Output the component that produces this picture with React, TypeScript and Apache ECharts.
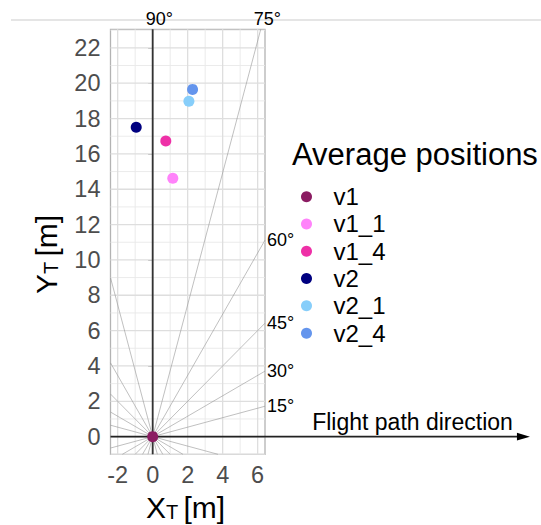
import React, { useEffect, useRef } from 'react';
import * as echarts from 'echarts';

const FONT = "'Liberation Sans', Arial, Helvetica, sans-serif";

// ---- data ----
const seriesNames = ['v1', 'v1_1', 'v1_4', 'v2', 'v2_1', 'v2_4'];
const seriesColors = ['#8B1C62', '#FF83FA', '#EE30A7', '#000080', '#87CEFA', '#6495ED'];
const xPositions = [0, 1.15, 0.75, -0.94, 2.07, 2.28];
const yPositions = [0, 14.62, 16.73, 17.51, 18.98, 19.65];

const xTickValues = [-2, 0, 2, 4, 6];
const yTickValues = [0, 2, 4, 6, 8, 10, 12, 14, 16, 18, 20, 22];
const xMinorValues = [-1, 1, 3, 5];
const yMinorValues = [-1, 1, 3, 5, 7, 9, 11, 13, 15, 17, 19, 21, 23];

const rayAngles = [0, 15, 30, 45, 60, 75, 90, 105, 120, 135, 150, 165, 180, 195, 210, 225, 240, 255, 270, 285, 300, 315, 330, 345];
const labeledAngles = [15, 30, 45, 60, 75, 90];

const X_MIN = -2.41;
const X_MAX = 6.42;
const Y_MIN = -1;
const Y_MAX = 23.05;
const ARROW_END_X = 21.56;

// point where a ray from the origin leaves the panel (data space)
function rayHit(deg: number): number[] {
  const r = (deg * Math.PI) / 180;
  const c = Math.cos(r);
  const s = Math.sin(r);
  let t = Infinity;
  if (c > 1e-9) t = Math.min(t, X_MAX / c);
  if (c < -1e-9) t = Math.min(t, X_MIN / c);
  if (s > 1e-9) t = Math.min(t, Y_MAX / s);
  if (s < -1e-9) t = Math.min(t, Y_MIN / s);
  return [t * c, t * s];
}

type GridLine = { axis: 'x' | 'y'; v: number; major: boolean };
const gridLines: GridLine[] = [
  ...xMinorValues.map((v) => ({ axis: 'x' as const, v, major: false })),
  ...yMinorValues.map((v) => ({ axis: 'y' as const, v, major: false })),
  ...xTickValues.map((v) => ({ axis: 'x' as const, v, major: true })),
  ...yTickValues.map((v) => ({ axis: 'y' as const, v, major: true })),
];

function titleParts(letter: string) {
  return [
    { type: 'text', x: 0, y: 0, style: { text: letter, fill: '#000', font: `30px ${FONT}`, textAlign: 'left', textVerticalAlign: 'middle' } },
    { type: 'text', x: 20, y: 4.5, style: { text: 'T', fill: '#000', font: `20px ${FONT}`, textAlign: 'left', textVerticalAlign: 'middle' } },
    { type: 'text', x: 37.5, y: 0, style: { text: '[m]', fill: '#000', font: `30px ${FONT}`, textAlign: 'left', textVerticalAlign: 'middle' } },
  ];
}

export default function App() {
  const ref = useRef<HTMLDivElement>(null);

  useEffect(() => {
    document.body.style.margin = '0';
    if (!ref.current) return;
    const chart = echarts.init(ref.current, undefined, { renderer: 'svg' });

    const scatterSeries = seriesNames.map((name, i) => ({
      name,
      type: 'scatter',
      z: 5,
      symbol: 'circle',
      symbolSize: 11,
      itemStyle: { color: seriesColors[i], opacity: 1 },
      data: [[xPositions[i], yPositions[i]]],
      silent: true,
    }));

    const option: any = {
      animation: false,
      backgroundColor: '#ffffff',
      textStyle: { fontFamily: FONT },
      grid: {
        left: 110.5,
        top: 29.3,
        width: 154.5,
        height: 425,
        show: true,
        borderColor: '#B3B3B3',
        borderWidth: 1.3,
        backgroundColor: 'transparent',
        containLabel: false,
        outerBoundsMode: 'none',
      },
      xAxis: {
        type: 'value',
        min: X_MIN,
        max: X_MAX,
        splitLine: { show: false },
        axisLine: { show: false },
        axisTick: {
          show: true,
          customValues: xTickValues,
          length: 4.5,
          lineStyle: { color: '#B3B3B3', width: 1 },
        },
        axisLabel: {
          customValues: xTickValues,
          fontSize: 23.5,
          color: '#4D4D4D',
          margin: 9,
          fontFamily: FONT,
        },
      },
      yAxis: {
        type: 'value',
        min: Y_MIN,
        max: Y_MAX,
        splitLine: { show: false },
        axisLine: { show: false },
        axisTick: {
          show: true,
          customValues: yTickValues,
          length: 4.5,
          lineStyle: { color: '#B3B3B3', width: 1 },
        },
        axisLabel: {
          customValues: yTickValues,
          fontSize: 23.5,
          color: '#4D4D4D',
          margin: 10,
          fontFamily: FONT,
        },
      },
      legend: {
        data: seriesNames,
        orient: 'vertical',
        left: 301,
        top: 183,
        padding: 0,
        itemGap: 0,
        itemWidth: 44,
        itemHeight: 11,
        icon: 'circle',
        selectedMode: false,
        textStyle: { fontSize: 24, lineHeight: 27.3, color: '#000000', fontFamily: FONT },
      },
      graphic: [
        {
          type: 'line',
          z: -1,
          shape: { x1: 11, y1: 20, x2: 541, y2: 20 },
          style: { stroke: '#CCCCCC', lineWidth: 1.2 },
        },
        {
          type: 'text',
          x: 292,
          y: 154,
          style: {
            text: 'Average positions',
            fill: '#000000',
            font: `31px ${FONT}`,
            textAlign: 'left',
            textVerticalAlign: 'middle',
          },
        },
        // X axis title
        { type: 'group', x: 146, y: 507, children: titleParts('X') },
        // Y axis title (rotated)
        { type: 'group', x: 46, y: 294, rotation: Math.PI / 2, children: titleParts('Y') },
      ],
      series: [
        {
          type: 'custom',
          name: 'grid',
          coordinateSystem: 'cartesian2d',
          z: 1,
          silent: true,
          data: gridLines.map((g) => (g.axis === 'x' ? [g.v, 0] : [0, g.v])),
          renderItem: (params: any, api: any) => {
            const g = gridLines[params.dataIndex];
            const p1 = g.axis === 'x' ? api.coord([g.v, Y_MIN]) : api.coord([X_MIN, g.v]);
            const p2 = g.axis === 'x' ? api.coord([g.v, Y_MAX]) : api.coord([X_MAX, g.v]);
            return {
              type: 'line',
              shape: { x1: p1[0], y1: p1[1], x2: p2[0], y2: p2[1] },
              style: { stroke: g.major ? '#DEDEDE' : '#E9E9E9', lineWidth: g.major ? 1.3 : 0.9 },
            };
          },
        },
        {
          type: 'custom',
          name: 'rays',
          coordinateSystem: 'cartesian2d',
          z: 2,
          silent: true,
          data: rayAngles.map((a) => rayHit(a)),
          renderItem: (params: any, api: any) => {
            const o = api.coord([0, 0]);
            const e = api.coord([api.value(0), api.value(1)]);
            return {
              type: 'line',
              shape: { x1: o[0], y1: o[1], x2: e[0], y2: e[1] },
              style: { stroke: '#959595', lineWidth: 0.6 },
            };
          },
        },
        {
          type: 'custom',
          name: 'rayLabels',
          coordinateSystem: 'cartesian2d',
          z: 3,
          silent: true,
          clip: false,
          data: labeledAngles.map((a) => rayHit(a)),
          renderItem: (params: any, api: any) => {
            const angle = labeledAngles[params.dataIndex];
            const p = api.coord([api.value(0), api.value(1)]);
            const onTop = angle > 70;
            return {
              type: 'text',
              x: onTop ? p[0] - 7 : p[0] + 2,
              y: onTop ? p[1] - 10 : p[1],
              style: {
                text: `${angle}°`,
                fill: '#000000',
                font: `18px ${FONT}`,
                textAlign: 'left',
                textVerticalAlign: 'middle',
              },
            };
          },
        },
        {
          type: 'custom',
          name: 'axes',
          coordinateSystem: 'cartesian2d',
          z: 4,
          silent: true,
          clip: false,
          data: [[0, 0]],
          renderItem: (params: any, api: any) => {
            const top = api.coord([0, Y_MAX]);
            const bottom = api.coord([0, Y_MIN]);
            const left = api.coord([X_MIN, 0]);
            const tip = api.coord([ARROW_END_X, 0]);
            const headLen = 13;
            const headHalf = 3.8;
            return {
              type: 'group',
              children: [
                {
                  type: 'line',
                  shape: { x1: bottom[0], y1: bottom[1], x2: top[0], y2: top[1] },
                  style: { stroke: '#333333', lineWidth: 1.8 },
                },
                {
                  type: 'line',
                  shape: { x1: left[0], y1: left[1], x2: tip[0] - headLen + 1, y2: tip[1] },
                  style: { stroke: '#222222', lineWidth: 1.6 },
                },
                {
                  type: 'polygon',
                  shape: {
                    points: [
                      [tip[0], tip[1]],
                      [tip[0] - headLen, tip[1] - headHalf],
                      [tip[0] - headLen, tip[1] + headHalf],
                    ],
                  },
                  style: { fill: '#000000' },
                },
                {
                  type: 'text',
                  x: tip[0] - 17,
                  y: tip[1] - 15,
                  style: {
                    text: 'Flight path direction',
                    fill: '#000000',
                    font: `23px ${FONT}`,
                    textAlign: 'right',
                    textVerticalAlign: 'middle',
                  },
                },
              ],
            };
          },
        },
        ...scatterSeries,
      ],
    };

    chart.setOption(option);
    return () => {
      chart.dispose();
    };
  }, []);

  return <div ref={ref} style={{ width: 541, height: 525 }} />;
}
